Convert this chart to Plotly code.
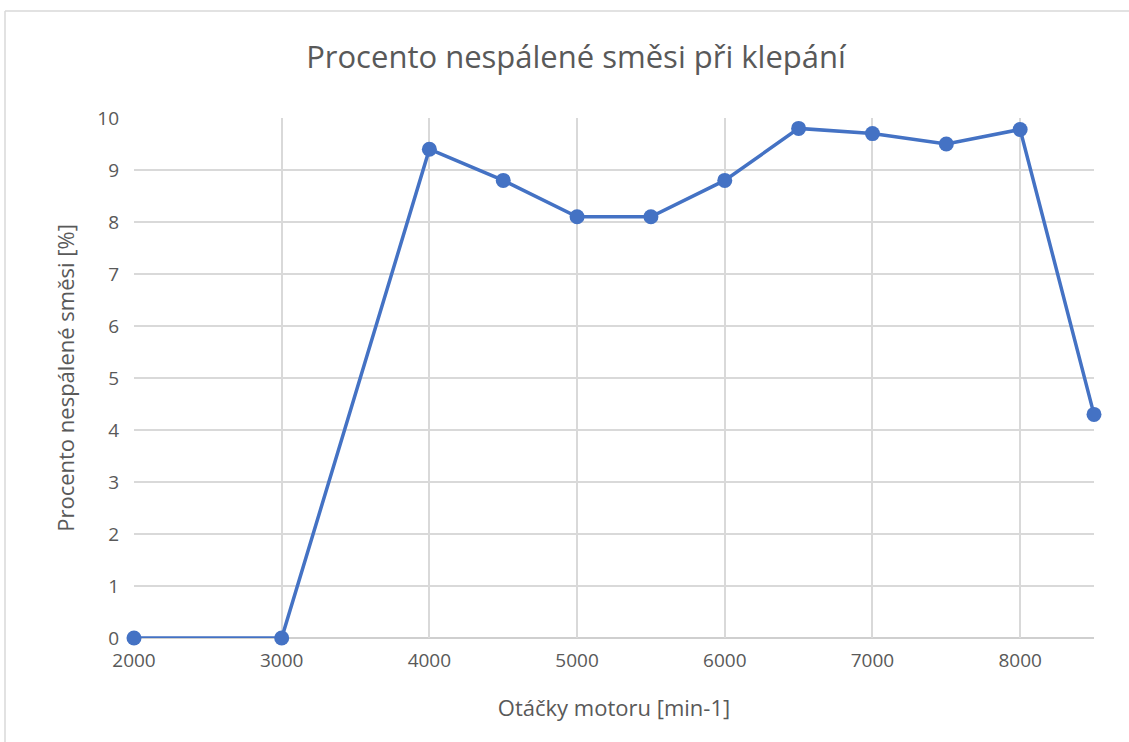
import plotly.graph_objects as go

rpm = [2000, 3000, 4000, 4500, 5000, 5500, 6000, 6500, 7000, 7500, 8000, 8500]
unburned_pct = [0, 0, 9.4, 8.8, 8.1, 8.1, 8.8, 9.8, 9.7, 9.5, 9.78, 4.3]
x_ticks = [2000, 3000, 4000, 5000, 6000, 7000, 8000]
y_ticks = list(range(0, 11))

TEXT = "#595959"
FONT = "Open Sans"

fig = go.Figure()
fig.add_trace(go.Scatter(
    x=rpm, y=unburned_pct, mode="lines+markers",
    line=dict(color="#4472C4", width=3.5),
    marker=dict(color="#4472C4", size=15),
    showlegend=False, cliponaxis=False,
))

fig.update_layout(
    width=1129, height=742,
    margin=dict(l=134, r=35, t=118, b=104),
    paper_bgcolor="white", plot_bgcolor="white",
    font=dict(family=FONT, color=TEXT, size=19),
    title=dict(text="Procento nespálené směsi při klepání",
               x=576/1129, xref="container", xanchor="center",
               y=1-57/742, yref="container", yanchor="middle",
               font=dict(family=FONT, size=31, color=TEXT)),
    xaxis=dict(range=[2000, 8500], tickvals=x_ticks,
               showgrid=True, gridcolor="#D9D9D9", gridwidth=1.5,
               showline=False, zeroline=False, ticks="",
               ticklabelstandoff=9,
               tickfont=dict(size=19, color=TEXT),
               title=dict(text="Otáčky motoru [min-1]", font=dict(size=22, color=TEXT), standoff=28)),
    yaxis=dict(range=[0, 10], tickvals=y_ticks,
               showgrid=True, gridcolor="#D9D9D9", gridwidth=1.5,
               showline=False, zeroline=False, ticks="",
               ticklabelstandoff=14,
               tickfont=dict(size=19, color=TEXT),
               title=dict(text="Procento nespálené směsi [%]", font=dict(size=22, color=TEXT), standoff=16)),
    shapes=[
        dict(type="line", xref="paper", yref="paper", x0=0, x1=1, y0=0, y1=0,
             line=dict(color="#BFBFBF", width=1.5), layer="below"),
        dict(type="line", xref="paper", yref="paper",
             x0=-129/960, x1=1+35/960, y0=1+107/520, y1=1+107/520,
             line=dict(color="#D9D9D9", width=1.5)),
        dict(type="line", xref="paper", yref="paper",
             x0=-129/960, x1=-129/960, y0=1+107/520, y1=-104/520,
             line=dict(color="#D9D9D9", width=1.5)),
    ],
)

fig.write_html("out.html", config={"displayModeBar": False},
               post_script="document.body.style.margin='0px';document.body.style.padding='0px';")
